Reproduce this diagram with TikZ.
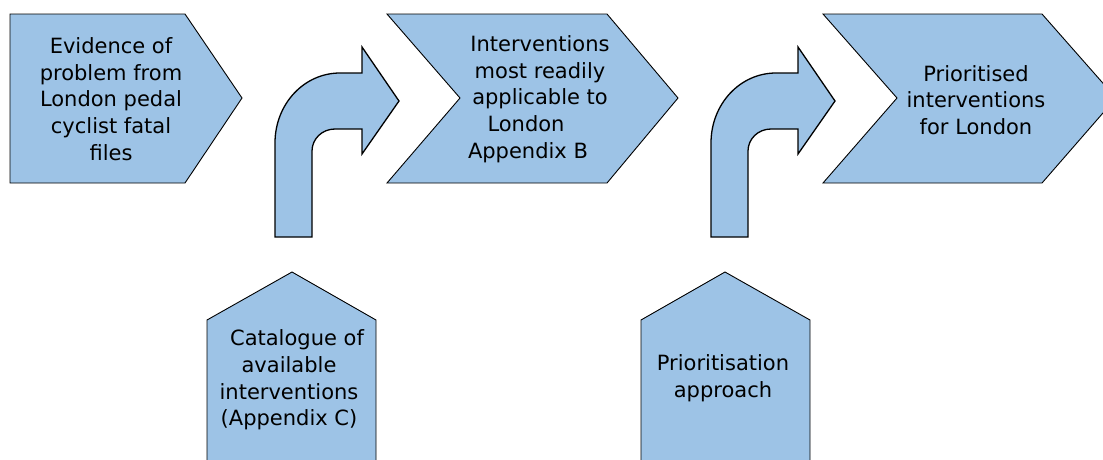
\documentclass[tikz,border=0pt]{standalone}
\usepackage{fontspec}
\setmainfont{DejaVu Sans}
\definecolor{boxblue}{HTML}{9DC3E6}
\tikzset{
  shapebox/.style={fill=boxblue, draw=black, line width=0.9pt, line join=miter},
  bentarrow/.style={fill=boxblue, draw=black, line width=1.3pt, line join=miter},
  label/.style={align=center, font=\fontsize{21}{26.7}\selectfont, text=black, inner sep=0pt}
}
\begin{document}
\begin{tikzpicture}[x=1pt,y=-1pt]
\useasboundingbox (0,0) rectangle (1103,459);
\clip (0,0) rectangle (1103,459);
% chevrons
\draw[shapebox] (10,14) -- (185,14) -- (242,98) -- (185,183) -- (10,183) -- cycle;
\draw[shapebox] (387,14) -- (607,14) -- (678,98) -- (607,183) -- (387,183) -- (460,98) -- cycle;
\draw[shapebox] (823,14) -- (1042,14) -- (1116,98) -- (1042,183) -- (823,183) -- (897,98) -- cycle;
% bent arrows
\foreach \dx in {0,436}{
\begin{scope}[xshift=\dx pt]
\draw[bentarrow] (275,237) -- (275,143) .. controls (275,104) and (304,73) .. (340,73)
  -- (362,73) -- (362,47) -- (399,101) -- (362,154) -- (362,129) -- (335,129)
  .. controls (322,129) and (312,139) .. (312,151) -- (312,237) -- cycle;
\end{scope}}
% upward pentagons
\draw[shapebox] (207,470) -- (207,320) -- (292,272) -- (376,320) -- (376,470) -- cycle;
\draw[shapebox] (641,470) -- (641,320) -- (725,272) -- (810,320) -- (810,470) -- cycle;
% texts
\node[label] (t1) at (111,99) {Evidence of\\problem from\\London pedal\\cyclist fatal\\files};
\node[label] (t2) at (540,99) {Interventions\\most readily\\applicable to\\London\hbox to 28pt{}\\Appendix B\hbox to 24pt{}};
\node[label] (t3) at (976,100) {Prioritised\\interventions\\for London};
\node[label] (t4) at (289,380) {\hbox to 16pt{}Catalogue of\\available\\interventions\\(Appendix C)};
\node[label] (t5) at (723,378) {Prioritisation\\approach};
\end{tikzpicture}
\end{document}
